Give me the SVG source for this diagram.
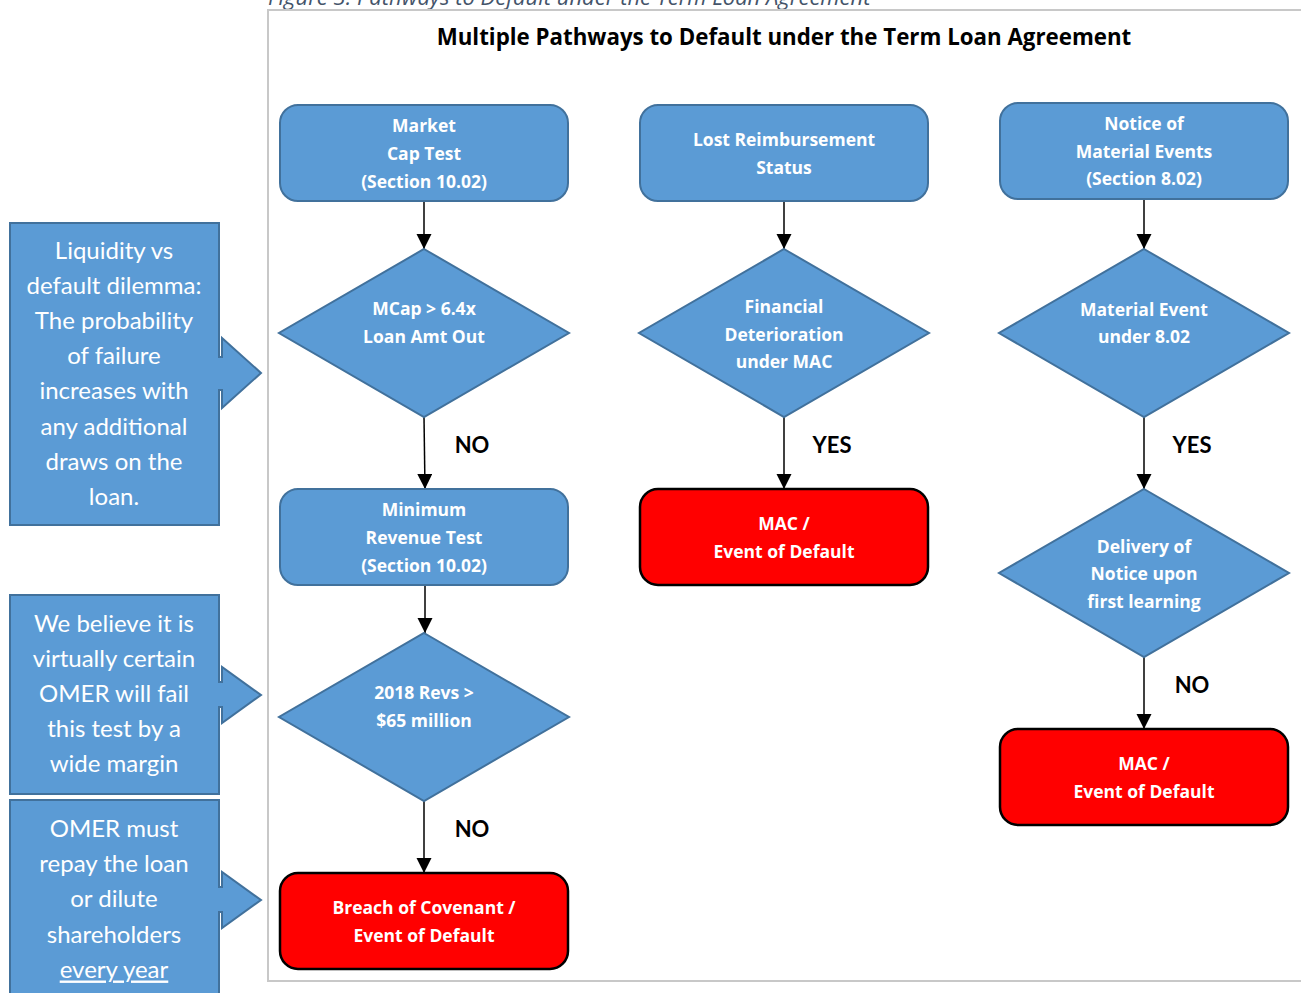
<svg xmlns="http://www.w3.org/2000/svg" width="1301" height="993" viewBox="0 0 1301 993">
<defs>
<marker id="ah" markerUnits="userSpaceOnUse" markerWidth="16" markerHeight="16" refX="15" refY="7.5" orient="auto">
<path d="M0,0 L15,7.5 L0,15 z" fill="#000"/>
</marker>
<style>
.blue{fill:#5b9bd5;stroke:#41719c;stroke-width:2}
.red{fill:#ff0000;stroke:#000;stroke-width:2.5}
.bt{font-family:"Open Sans","Liberation Sans",sans-serif;font-weight:bold;font-size:17.5px;fill:#fff;text-anchor:middle;dominant-baseline:central}
.ct{font-family:Lato,"Liberation Sans",sans-serif;font-size:24px;fill:#fff;text-anchor:middle;dominant-baseline:central}
.lbl{font-family:Lato,"Liberation Sans",sans-serif;font-weight:bold;font-size:22px;fill:#000;text-anchor:middle;dominant-baseline:central}
.ttl{font-family:"Open Sans","Liberation Sans",sans-serif;font-weight:bold;font-size:22.3px;fill:#000;text-anchor:middle;dominant-baseline:central}
.conn{stroke:#000;stroke-width:1.5;fill:none;marker-end:url(#ah)}
</style>
</defs>
<rect width="1301" height="993" fill="#fff"/>
<text x="268" y="5" font-family="'Open Sans','Liberation Sans',sans-serif" font-style="italic" font-size="22" fill="#44546a">Figure 3: Pathways to Default under the Term Loan Agreement</text>
<path d="M1305,10 L268,10 L268,981 L1305,981" fill="none" stroke="#c8c8c8" stroke-width="2"/>
<text x="784" y="36" class="ttl">Multiple Pathways to Default under the Term Loan Agreement</text>

<g id="callout1">
<path class="blue" d="M10,223 L219,223 L219,357 L222,357 L222,338 L261,373 L222,408 L222,390 L219,390 L219,525 L10,525 Z"/>
<text class="ct" x="114" y="249">Liquidity vs</text>
<text class="ct" x="114" y="284">default dilemma:</text>
<text class="ct" x="114" y="319">The probability</text>
<text class="ct" x="114" y="354">of failure</text>
<text class="ct" x="114" y="389">increases with</text>
<text class="ct" x="114" y="425">any additional</text>
<text class="ct" x="114" y="460">draws on the</text>
<text class="ct" x="114" y="495">loan.</text>
</g>
<g id="callout2">
<path class="blue" d="M10,595 L219,595 L219,682 L222,682 L222,667 L261,695 L222,723 L222,707 L219,707 L219,794 L10,794 Z"/>
<text class="ct" x="114" y="622">We believe it is</text>
<text class="ct" x="114" y="657">virtually certain</text>
<text class="ct" x="114" y="692">OMER will fail</text>
<text class="ct" x="114" y="727">this test by a</text>
<text class="ct" x="114" y="762">wide margin</text>
</g>
<g id="callout3">
<path class="blue" d="M10,800 L219,800 L219,887 L222,887 L222,872 L261,900 L222,928 L222,912 L219,912 L219,1000 L10,1000 Z"/>
<text class="ct" x="114" y="827">OMER must</text>
<text class="ct" x="114" y="862">repay the loan</text>
<text class="ct" x="114" y="897">or dilute</text>
<text class="ct" x="114" y="933">shareholders</text>
<text class="ct" x="114" y="968" text-decoration="underline">every year</text>
</g>

<g id="connectors">
<line class="conn" x1="424" y1="201" x2="424" y2="249"/>
<line class="conn" x1="424" y1="417" x2="425" y2="489"/>
<line class="conn" x1="425" y1="585" x2="425" y2="633"/>
<line class="conn" x1="424" y1="801" x2="424" y2="873"/>
<line class="conn" x1="784" y1="201" x2="784" y2="249"/>
<line class="conn" x1="784" y1="417" x2="784" y2="489"/>
<line class="conn" x1="1144" y1="199" x2="1144" y2="249"/>
<line class="conn" x1="1144" y1="417" x2="1144" y2="489"/>
<line class="conn" x1="1144" y1="657" x2="1144" y2="729"/>
<text class="lbl" x="472" y="444">NO</text>
<text class="lbl" x="472" y="828">NO</text>
<text class="lbl" x="832" y="444">YES</text>
<text class="lbl" x="1192" y="444">YES</text>
<text class="lbl" x="1192" y="684">NO</text>
</g>

<g id="marketcap">
<rect class="blue" x="280" y="105" width="288" height="96" rx="18"/>
<text class="bt" x="424" y="125">Market</text>
<text class="bt" x="424" y="153">Cap Test</text>
<text class="bt" x="424" y="181">(Section 10.02)</text>
</g>
<g id="mcapdiamond">
<path class="blue" d="M424,249 L569,333 L424,417 L279,333 Z"/>
<text class="bt" x="424" y="308">MCap &gt; 6.4x</text>
<text class="bt" x="424" y="336">Loan Amt Out</text>
</g>
<g id="minrev">
<rect class="blue" x="280" y="489" width="288" height="96" rx="18"/>
<text class="bt" x="424" y="509">Minimum</text>
<text class="bt" x="424" y="537">Revenue Test</text>
<text class="bt" x="424" y="565">(Section 10.02)</text>
</g>
<g id="revdiamond">
<path class="blue" d="M424,633 L569,717 L424,801 L279,717 Z"/>
<text class="bt" x="424" y="692">2018 Revs &gt;</text>
<text class="bt" x="424" y="720">$65 million</text>
</g>
<g id="breach">
<rect class="red" x="280" y="873" width="288" height="96" rx="18"/>
<text class="bt" x="424" y="907">Breach of Covenant /</text>
<text class="bt" x="424" y="935">Event of Default</text>
</g>

<g id="lostreimb">
<rect class="blue" x="640" y="105" width="288" height="96" rx="18"/>
<text class="bt" x="784" y="139">Lost Reimbursement</text>
<text class="bt" x="784" y="167">Status</text>
</g>
<g id="findiamond">
<path class="blue" d="M784,249 L929,333 L784,417 L639,333 Z"/>
<text class="bt" x="784" y="306">Financial</text>
<text class="bt" x="784" y="334">Deterioration</text>
<text class="bt" x="784" y="361">under MAC</text>
</g>
<g id="mac1">
<rect class="red" x="640" y="489" width="288" height="96" rx="18"/>
<text class="bt" x="784" y="523">MAC /</text>
<text class="bt" x="784" y="551">Event of Default</text>
</g>

<g id="notice">
<rect class="blue" x="1000" y="103" width="288" height="96" rx="18"/>
<text class="bt" x="1144" y="123">Notice of</text>
<text class="bt" x="1144" y="151">Material Events</text>
<text class="bt" x="1144" y="178">(Section 8.02)</text>
</g>
<g id="matdiamond">
<path class="blue" d="M1144,249 L1289,333 L1144,417 L999,333 Z"/>
<text class="bt" x="1144" y="309">Material Event</text>
<text class="bt" x="1144" y="336">under 8.02</text>
</g>
<g id="delivdiamond">
<path class="blue" d="M1144,489 L1289,573 L1144,657 L999,573 Z"/>
<text class="bt" x="1144" y="546">Delivery of</text>
<text class="bt" x="1144" y="573">Notice upon</text>
<text class="bt" x="1144" y="601">first learning</text>
</g>
<g id="mac2">
<rect class="red" x="1000" y="729" width="288" height="96" rx="18"/>
<text class="bt" x="1144" y="763">MAC /</text>
<text class="bt" x="1144" y="791">Event of Default</text>
</g>
</svg>
